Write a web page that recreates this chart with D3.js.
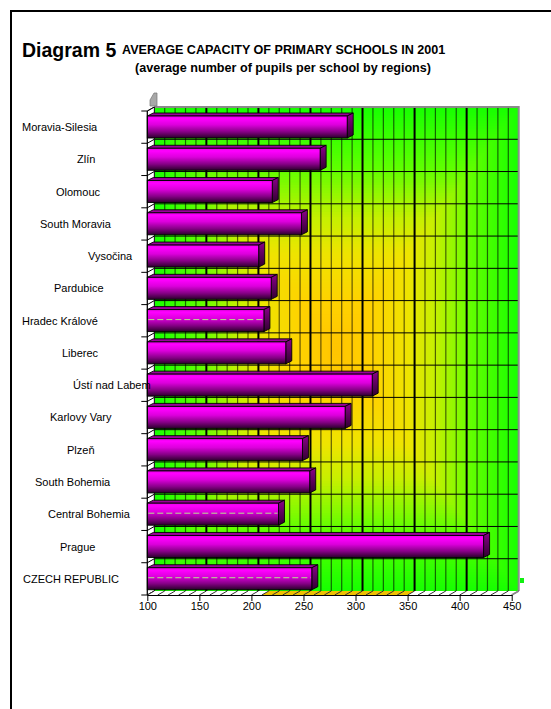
<!DOCTYPE html>
<html>
<head>
<meta charset="utf-8">
<script src="https://cdn.jsdelivr.net/npm/d3@7"></script>
<style>
  html, body { margin: 0; padding: 0; background: #fff; }
  svg { display: block; }
  text { font-family: "Liberation Sans", Arial, sans-serif; }
</style>
</head>
<body>
<svg id="chart" width="551" height="709"></svg>
<script>
// ---- data ----
const categories = ["Moravia-Silesia", "Zlín", "Olomouc", "South Moravia", "Vysočina", "Pardubice",
  "Hradec Králové", "Liberec", "Ústí nad Labem", "Karlovy Vary", "Plzeň", "South Bohemia",
  "Central Bohemia", "Prague", "CZECH REPUBLIC"];
const values = [292, 266, 220, 248, 207, 219, 212, 233, 316, 290, 249, 256, 226, 423, 258];
const tickValues = [100, 150, 200, 250, 300, 350, 400, 450];
const titleMain = "Diagram 5";
const titleLine1 = "AVERAGE CAPACITY OF PRIMARY SCHOOLS IN 2001";
const titleLine2 = "(average number of pupils per school by regions)";

// ---- layout (not data) ----
const labelLeft = [22, 77, 56, 40, 88, 54, 22, 62, 73, 50, 67, 35, 48, 60, 23];
const seamRows = ["Hradec Králové", "Central Bohemia", "CZECH REPUBLIC"];
const DX = 7, DY = 4;      // wall depth
const BDX = 6, BDY = 3;    // bar depth

const svg = d3.select("#chart");
const defs = svg.append("defs");

// frame
svg.append("path").attr("d", "M11,709 L11,11 L551,11").attr("fill", "none")
  .attr("stroke", "#000").attr("stroke-width", 2);

// titles
svg.append("text").attr("x", 22).attr("y", 57).attr("font-size", 19.5).attr("font-weight", "bold").text(titleMain);
svg.append("text").attr("x", 122).attr("y", 54).attr("font-size", 12.6).attr("font-weight", "bold").text(titleLine1);
svg.append("text").attr("x", 283).attr("y", 72).attr("text-anchor", "middle").attr("font-size", 12.6).attr("font-weight", "bold").text(titleLine2);

// scales
const x = d3.scaleLinear().domain([100, 450]).range([147.3, 511.7]);
const y = d3.scaleBand().domain(categories).range([111, 595]).paddingInner(0).paddingOuter(0);
const bw = y.bandwidth();
const yTop = y.range()[0], yBot = y.range()[1];

// ---- back wall with rectangular "from center" gradient ----
const wx0 = x(100) + DX, wx1 = x(450) + DX, wy0 = yTop - DY, wy1 = yBot - DY;
const cx = (wx0 + wx1) / 2, cy = (wy0 + wy1) / 2, hw = (wx1 - wx0) / 2, hh = (wy1 - wy0) / 2;
const wallColor = d3.scaleLinear()
  .domain([0, 0.2, 0.4, 0.55, 0.75, 1])
  .range(["#ffc400", "#ffd200", "#eee400", "#c4f000", "#60ff00", "#18ff00"])
  .interpolate(d3.interpolateRgb);
const steps = d3.range(90, 0, -1).map(i => i / 90);
svg.append("g").selectAll("rect").data(steps).join("rect")
  .attr("x", t => cx - t * hw).attr("y", t => cy - t * hh)
  .attr("width", t => 2 * t * hw).attr("height", t => 2 * t * hh)
  .attr("fill", t => wallColor(t));

// wall gridlines
const grid = svg.append("g");
const minor = d3.range(110, 450, 10).filter(v => v % 50 !== 0);
grid.selectAll("line.minor").data(minor).join("line")
  .attr("x1", v => x(v) + DX).attr("x2", v => x(v) + DX).attr("y1", wy0).attr("y2", wy1)
  .attr("stroke", "#000").attr("stroke-opacity", 0.6).attr("stroke-width", 1.2);
grid.selectAll("line.major").data([150, 200, 250, 300, 350, 400]).join("line")
  .attr("x1", v => x(v) + DX).attr("x2", v => x(v) + DX).attr("y1", wy0).attr("y2", wy1)
  .attr("stroke", "#000").attr("stroke-width", 2);
const bounds = categories.map(c => y(c)).concat([yBot]);
grid.selectAll("line.h").data(bounds.slice(1, -1)).join("line")
  .attr("x1", wx0).attr("x2", wx1).attr("y1", b => b - DY).attr("y2", b => b - DY)
  .attr("stroke", "#000").attr("stroke-width", 1);
// wall border
svg.append("path").attr("d", `M${wx0},${wy0} L${wx1},${wy0} L${wx1},${wy1}`)
  .attr("fill", "none").attr("stroke", "#8a8a8a").attr("stroke-width", 2);
svg.append("line").attr("x1", wx0).attr("x2", wx0).attr("y1", wy0).attr("y2", wy1)
  .attr("stroke", "#000").attr("stroke-width", 1);

// side wall (left)
svg.append("polygon")
  .attr("points", `${x(100)},${yTop} ${wx0},${wy0} ${wx0},${wy1} ${x(100)},${yBot}`)
  .attr("fill", "#fff").attr("stroke", "#000").attr("stroke-width", 0.8);
svg.append("g").selectAll("line").data(bounds).join("line")
  .attr("x1", x(100)).attr("y1", b => b).attr("x2", wx0).attr("y2", b => b - DY)
  .attr("stroke", "#000").attr("stroke-width", 1);
// little grey top piece
svg.append("polygon").attr("points", `150,100 154,93 157,93 157,106 150,106`)
  .attr("fill", "#a8a8a8").attr("stroke", "#777").attr("stroke-width", 0.7);

// floor
svg.append("polygon")
  .attr("points", `${x(100)},${yBot} ${x(450)},${yBot} ${x(450) + DX},${yBot - DY} ${x(100) + DX},${yBot - DY}`)
  .attr("fill", "#fff");
svg.append("polygon")
  .attr("points", `${x(210)},${yBot} ${x(350)},${yBot} ${x(350) + DX},${yBot - DY} ${x(210) + DX},${yBot - DY}`)
  .attr("fill", "#f0c000");
svg.append("g").selectAll("line").data(d3.range(100, 451, 10)).join("line")
  .attr("x1", v => x(v)).attr("y1", yBot).attr("x2", v => x(v) + DX).attr("y2", yBot - DY)
  .attr("stroke", "#333").attr("stroke-width", 1);
svg.append("path")
  .attr("d", `M${x(450)},${yBot} L${x(450) + DX},${yBot - DY}`)
  .attr("stroke", "#8a8a8a").attr("stroke-width", 2);

// ---- bars ----
const frontGrad = defs.append("linearGradient").attr("id", "barFront").attr("x1", 0).attr("y1", 0).attr("x2", 0).attr("y2", 1);
[[0, "#e800e8"], [0.12, "#ff00ff"], [0.4, "#dc00dc"], [0.72, "#860086"], [1, "#2a002a"]]
  .forEach(([o, c]) => frontGrad.append("stop").attr("offset", o).attr("stop-color", c));
const sideGrad = defs.append("linearGradient").attr("id", "barSide").attr("x1", 0).attr("y1", 0).attr("x2", 0).attr("y2", 1);
[[0, "#8a008a"], [1, "#300030"]].forEach(([o, c]) => sideGrad.append("stop").attr("offset", o).attr("stop-color", c));

const rows = categories.map((c, i) => ({ c, v: values[i] }));
const bars = svg.append("g").selectAll("g").data(rows).join("g");
const bt = d => y(d.c) + 5, bb = d => y(d.c) + 27;
bars.append("polygon")
  .attr("points", d => `${x(100)},${bt(d)} ${x(d.v)},${bt(d)} ${x(d.v) + BDX},${bt(d) - BDY} ${x(100) + BDX},${bt(d) - BDY}`)
  .attr("fill", "#9a009a").attr("stroke", "#000").attr("stroke-width", 0.9);
bars.append("polygon")
  .attr("points", d => `${x(d.v)},${bt(d)} ${x(d.v) + BDX},${bt(d) - BDY} ${x(d.v) + BDX},${bb(d) - BDY} ${x(d.v)},${bb(d)}`)
  .attr("fill", "url(#barSide)").attr("stroke", "#000").attr("stroke-width", 0.9);
bars.append("rect")
  .attr("x", x(100)).attr("y", bt).attr("width", d => x(d.v) - x(100)).attr("height", d => bb(d) - bt(d))
  .attr("fill", "url(#barFront)").attr("stroke", "#000").attr("stroke-width", 0.9);
bars.filter(d => seamRows.includes(d.c)).append("line")
  .attr("x1", x(100) + 1).attr("x2", d => x(d.v) - 1)
  .attr("y1", d => y(d.c) + 15).attr("y2", d => y(d.c) + 15)
  .attr("stroke", "#b8e090").attr("stroke-width", 1).attr("stroke-dasharray", "6,3");

// ---- axes ----
const xAxis = d3.axisBottom(x).tickValues(tickValues).tickSize(6).tickPadding(1).tickSizeOuter(0);
const gx = svg.append("g").attr("transform", `translate(0,${yBot})`).call(xAxis);
gx.select(".domain").attr("stroke", "#000");
gx.selectAll(".tick line").attr("stroke", "#000");
gx.selectAll("text").attr("font-size", 11).attr("fill", "#000")
  .attr("font-family", "'Liberation Sans', Arial, sans-serif");

svg.append("line").attr("x1", x(100)).attr("x2", x(100)).attr("y1", yTop).attr("y2", yBot)
  .attr("stroke", "#000").attr("stroke-width", 1);
svg.append("g").selectAll("line").data(bounds).join("line")
  .attr("x1", x(100) - 6).attr("x2", x(100)).attr("y1", b => b).attr("y2", b => b)
  .attr("stroke", "#000").attr("stroke-width", 1);

svg.append("g").selectAll("text").data(categories).join("text")
  .attr("x", (c, i) => labelLeft[i]).attr("y", c => y(c) + bw / 2 + 1)
  .attr("dominant-baseline", "middle").attr("font-size", 11).attr("fill", "#000")
  .text(c => c);

// small legend key
svg.append("rect").attr("x", 520).attr("y", 578).attr("width", 4).attr("height", 5).attr("fill", "#10f010");
</script>
</body>
</html>
